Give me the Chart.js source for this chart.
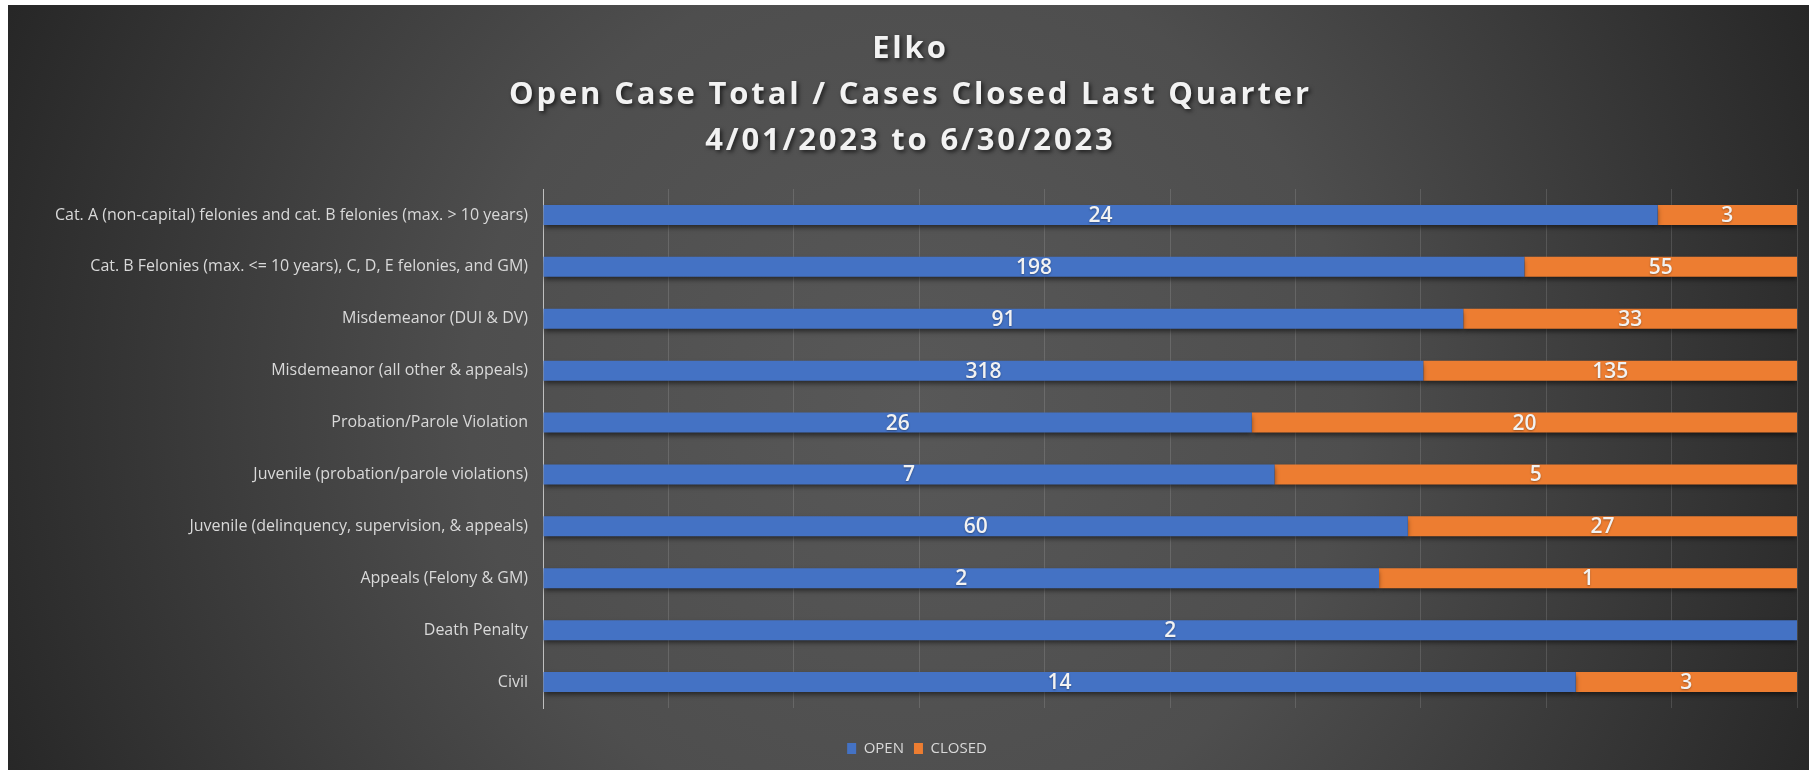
<!DOCTYPE html>
<html>
<head>
<meta charset="utf-8">
<script src="https://cdn.jsdelivr.net/npm/chart.js@4.4.1/dist/chart.umd.min.js"></script>
<style>
  html, body { margin: 0; padding: 0; background: #ffffff; }
  #wrap { width: 1809px; height: 770px; position: relative; }
</style>
</head>
<body>
<div id="wrap"><canvas id="c" width="1809" height="770"></canvas></div>
<script>
// ---- data ----
const categories = [
  "Cat. A (non-capital) felonies and cat. B felonies (max. > 10 years)",
  "Cat. B Felonies (max. <= 10 years), C, D, E felonies, and GM)",
  "Misdemeanor (DUI & DV)",
  "Misdemeanor (all other & appeals)",
  "Probation/Parole Violation",
  "Juvenile (probation/parole violations)",
  "Juvenile (delinquency, supervision, & appeals)",
  "Appeals (Felony & GM)",
  "Death Penalty",
  "Civil"
];
const openCases   = [24, 198, 91, 318, 26, 7, 60, 2, 2, 14];
const closedCases = [3, 55, 33, 135, 20, 5, 27, 1, 0, 3];
const seriesNames = ["OPEN", "CLOSED"];
const titleLines = ["Elko", "Open Case Total / Cases Closed Last Quarter", "4/01/2023 to 6/30/2023"];

// 100% stacked shares
const totals = openCases.map((v, i) => v + closedCases[i]);
const openPct = openCases.map((v, i) => v / totals[i] * 100);
const closedPct = closedCases.map((v, i) => v / totals[i] * 100);

const bgPlugin = {
  id: 'bg',
  beforeDraw(chart) {
    const ctx = chart.ctx;
    ctx.save();
    ctx.fillStyle = '#ffffff';
    ctx.fillRect(0, 0, chart.width, chart.height);
    const g = ctx.createRadialGradient(910, 400, 0, 910, 400, 980);
    g.addColorStop(0, '#585858');
    g.addColorStop(0.45, '#4e4e4e');
    g.addColorStop(1, '#272727');
    ctx.fillStyle = g;
    ctx.fillRect(8, 5, chart.width - 8, chart.height - 5);
    ctx.restore();
  }
};

// multi-line chart title with letter spacing and soft shadow
const titlePlugin = {
  id: 'spacedTitle',
  afterDraw(chart) {
    const ctx = chart.ctx;
    ctx.save();
    ctx.font = 'bold 31px "Open Sans"';
    ctx.fillStyle = '#f2f2f2';
    ctx.textAlign = 'left';
    ctx.textBaseline = 'alphabetic';
    ctx.letterSpacing = '0px';
    const natural = ctx.measureText(titleLines[1]).width;
    const spacing = Math.max(0, (800 - natural) / (titleLines[1].length - 1));
    ctx.letterSpacing = spacing + 'px';
    ctx.shadowColor = 'rgba(0,0,0,0.65)';
    ctx.shadowBlur = 4;
    ctx.shadowOffsetX = 2;
    ctx.shadowOffsetY = 2;
    const cx = 909;
    const baselines = [58, 104, 150];
    titleLines.forEach((t, i) => {
      const w = ctx.measureText(t).width - spacing;
      ctx.fillText(t, cx - w / 2, baselines[i]);
    });
    ctx.restore();
  }
};

const shadowPlugin = {
  id: 'barShadow',
  beforeDatasetsDraw(chart) {
    const ctx = chart.ctx;
    ctx.save();
    ctx.shadowColor = 'rgba(0,0,0,0.55)';
    ctx.shadowBlur = 5;
    ctx.shadowOffsetY = 3;
  },
  afterDatasetsDraw(chart) {
    chart.ctx.restore();
  }
};

const raw = [openCases, closedCases];
const labelPlugin = {
  id: 'segLabels',
  afterDatasetsDraw(chart) {
    const ctx = chart.ctx;
    ctx.save();
    ctx.font = '600 21px "Open Sans"';
    ctx.fillStyle = '#f2f2f2';
    ctx.textAlign = 'center';
    ctx.textBaseline = 'middle';
    ctx.shadowColor = 'rgba(0,0,0,0.35)';
    ctx.shadowBlur = 2;
    ctx.shadowOffsetY = 1;
    chart.data.datasets.forEach((ds, di) => {
      const meta = chart.getDatasetMeta(di);
      meta.data.forEach((bar, i) => {
        const v = raw[di][i];
        if (!v) return;
        const p = bar.getProps(['x', 'y', 'base'], true);
        ctx.fillText(String(v), (p.x + p.base) / 2, p.y + 1);
      });
    });
    ctx.restore();
  }
};

new Chart(document.getElementById('c'), {
  type: 'bar',
  data: {
    labels: categories,
    datasets: [
      { label: seriesNames[0], data: openPct, backgroundColor: '#4472C4', borderWidth: 0 },
      { label: seriesNames[1], data: closedPct, backgroundColor: '#ED7D31', borderWidth: 0 }
    ]
  },
  options: {
    indexAxis: 'y',
    responsive: false,
    animation: false,
    devicePixelRatio: 1,
    layout: { padding: { left: 37, right: 12, top: 189, bottom: 4 } },
    datasets: { bar: { categoryPercentage: 1, barPercentage: 0.385 } },
    scales: {
      x: {
        stacked: true,
        min: 0, max: 100,
        ticks: { display: false, stepSize: 10 },
        grid: { color: 'rgba(255,255,255,0.13)', drawTicks: false, lineWidth: 1 },
        border: { display: false },
        afterFit(s) { s.height = 23; }
      },
      y: {
        stacked: true,
        ticks: { color: '#d9d9d9', font: { family: '"Open Sans"', size: 16 }, padding: 15 },
        grid: { color: 'rgba(0,0,0,0)', drawTicks: false },
        border: { display: true, color: '#bfbfbf', width: 1 },
        afterFit(s) { s.width = 506; }
      }
    },
    plugins: {
      title: { display: false },
      legend: {
        position: 'bottom',
        labels: {
          color: '#d9d9d9',
          font: { family: '"Open Sans"', size: 15 },
          boxWidth: 9, boxHeight: 11, padding: 10
        }
      },
      tooltip: { enabled: false }
    }
  },
  plugins: [bgPlugin, shadowPlugin, labelPlugin, titlePlugin]
});
</script>
</body>
</html>
